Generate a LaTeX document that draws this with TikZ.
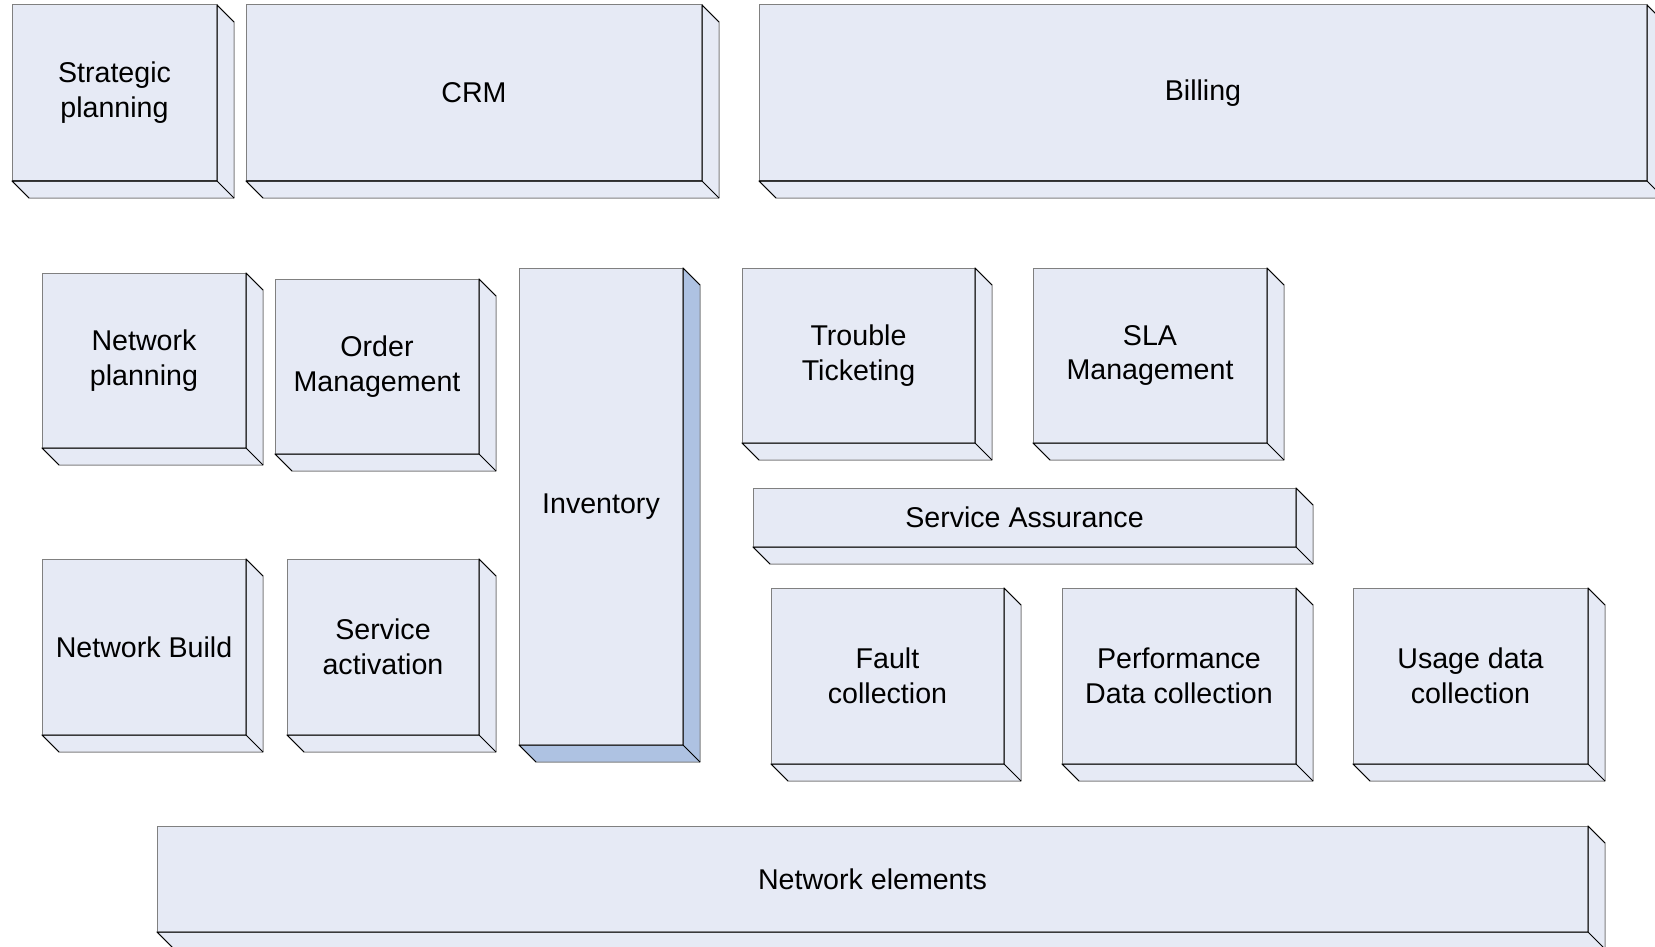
\documentclass[tikz,border=0pt]{standalone}
\usepackage{fontspec}
\setmainfont{Liberation Sans}
\definecolor{boxfill}{RGB}{230,234,245}
\definecolor{boxside}{RGB}{174,194,226}
\definecolor{boxedge}{RGB}{128,128,128}
\tikzset{
    block/.style = {
        draw = boxedge,
        fill = boxfill,
        line width = 0.5pt,
        outer sep = 0pt,
        inner sep = 0pt,
        align = center,
        font = \fontsize{14.3}{17.4}\selectfont,
        },
    wh/.style 2 args = {
        minimum width = #1*0.5pt,
        minimum height = #2*0.5pt,
        },
    face/.style = {
        draw = boxedge,
        line width = 0.5pt,
        },
    rim/.style = {
        draw = black,
        line width = 0.5pt,
        },
}

\begin{document}
\begin{tikzpicture}[x=0.5pt, y=-0.5pt, line join=round]
    \clip (0,0) rectangle (1655,947);

    % top row
    \node[block, wh={205}{176}] (strat) at (114.5,93) {Strategic\\planning};
    \node[block, wh={456}{176}] (crm) at (474,93) {CRM};
    \node[block, wh={888}{176}] (bill) at (1203,93) {Billing};

    % left columns
    \node[block, wh={204}{175}] (netplan) at (144,360.5) {Network\\planning};
    \node[block, wh={204}{175}] (order) at (377,366.5) {Order\\Management};
    \node[block, wh={204}{176}] (netbuild) at (144,647) {Network Build};
    \node[block, wh={192}{176}] (activ) at (383,647) {Service\\activation};
    \node[block, wh={164}{477}] (inv) at (601,506.5) {Inventory};

    % assurance side
    \node[block, wh={233}{175}] (trouble) at (858.5,355.5) {Trouble\\Ticketing};
    \node[block, wh={234}{175}] (sla) at (1150,355.5) {SLA\\Management};
    \node[block, wh={543}{59}] (assur) at (1024.5,517.5) {Service Assurance};
    \node[block, wh={233}{176}] (fault) at (887.5,676) {Fault\\collection};
    \node[block, wh={234}{176}] (perf) at (1179,676) {Performance\\Data collection};
    \node[block, wh={235}{176}] (usage) at (1470.5,676) {Usage data\\collection};

    % bottom
    \node[block, wh={1431}{106}] (netel) at (872.5,879) {Network elements};

    % depth faces
    \foreach \n/\c in {strat/boxfill, crm/boxfill, bill/boxfill, netplan/boxfill,
                       order/boxfill, netbuild/boxfill, activ/boxfill, inv/boxside,
                       trouble/boxfill, sla/boxfill, assur/boxfill, fault/boxfill,
                       perf/boxfill, usage/boxfill, netel/boxfill} {
        \filldraw[face, fill=\c] (\n.north east) -- ([shift={(17,17)}]\n.north east)
            -- ([shift={(17,17)}]\n.south east) -- ([shift={(17,17)}]\n.south west)
            -- (\n.south west) -- (\n.south east) -- cycle;
        \draw[rim] ([shift={(17,17)}]\n.north east) -- (\n.north east) -- (\n.south east)
            -- (\n.south west) -- ([shift={(17,17)}]\n.south west)
            (\n.south east) -- ([shift={(17,17)}]\n.south east);
    }
\end{tikzpicture}
\end{document}
